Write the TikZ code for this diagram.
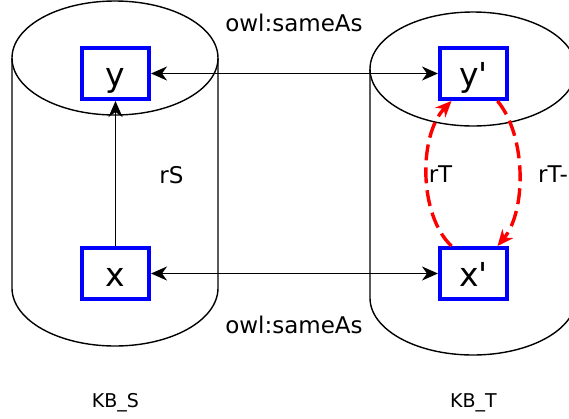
\documentclass[tikz,border=0pt]{standalone}
\usepackage{fontspec}
\newfontfamily\lab{DejaVu Sans}
\usetikzlibrary{arrows.meta,calc}
\begin{document}
\begin{tikzpicture}[x=1pt,y=-1pt,
  box/.style={draw={rgb,255:red,0;green,0;blue,255}, line width=4pt, minimum width=67pt, minimum height=51pt, inner sep=0pt,
    font=\lab\fontsize{33}{38}\selectfont, text height=25pt, text depth=0pt},
  cyl/.style={line width=1.4pt},
  tipk/.tip={Stealth[length=16pt,width=14pt,inset=5pt]},
  link/.style={line width=1.4pt},
  redarr/.style={draw=red, line width=3.4pt, dash pattern=on 16pt off 7pt, -{Stealth[length=16pt,width=14pt,inset=5pt,fill=red]}},
  lbl/.style={font=\lab\fontsize{23}{27}\selectfont, inner sep=0pt},
  kb/.style={font=\lab\fontsize{19}{22}\selectfont, inner sep=0pt}]
\useasboundingbox (0,0) rectangle (569,418);
\clip (0,0) rectangle (569,418);
% cylinders
\draw[cyl] (12,58) -- (12,288) arc[start angle=180,end angle=0,x radius=103,y radius=58] -- (218,58);
\draw[cyl] (115,58) ellipse [x radius=103, y radius=57];
\draw[cyl] (370,69) -- (370,298) arc[start angle=180,end angle=0,x radius=103,y radius=57] -- (576,69);
\draw[cyl] (473,69) ellipse [x radius=103, y radius=57];
% boxes
\node[box] (y) at (115.5,73.5) {y};
\node[box] (x) at (115.5,273.5) {x};
\node[box] (yp) at (473.5,73.5) {y'};
\node[box] (xp) at (473.5,273.5) {x'};
% connectors
\draw[link, tipk-tipk] (y) -- (yp);
\draw[link, tipk-tipk] (x) -- (xp);
\draw[link, -tipk] (x) -- (y);
\draw[redarr] ([xshift=-22pt]xp.north) .. controls +(-33,-31) and +(-33,34) .. ([xshift=-22pt]yp.south);
\draw[redarr] ([xshift=24pt]yp.south) .. controls +(29,35) and +(29,-35) .. ([xshift=24pt]xp.north);
% labels
\node[lbl, anchor=base] (sa1) at (294,31.7) {owl:sameAs};
\node[lbl, anchor=base] (sa2) at (294,333) {owl:sameAs};
\node[lbl, anchor=base] (rs) at (171.5,183) {rS};
\node[lbl, anchor=base] (rt) at (440.5,182) {rT};
\node[lbl, anchor=base west] (rti) at (538,182) {rT-1};
\node[kb, anchor=base] (kbs) at (115.5,407) {KB\_S};
\node[kb, anchor=base] (kbt) at (473.5,407) {KB\_T};
\end{tikzpicture}
\end{document}
